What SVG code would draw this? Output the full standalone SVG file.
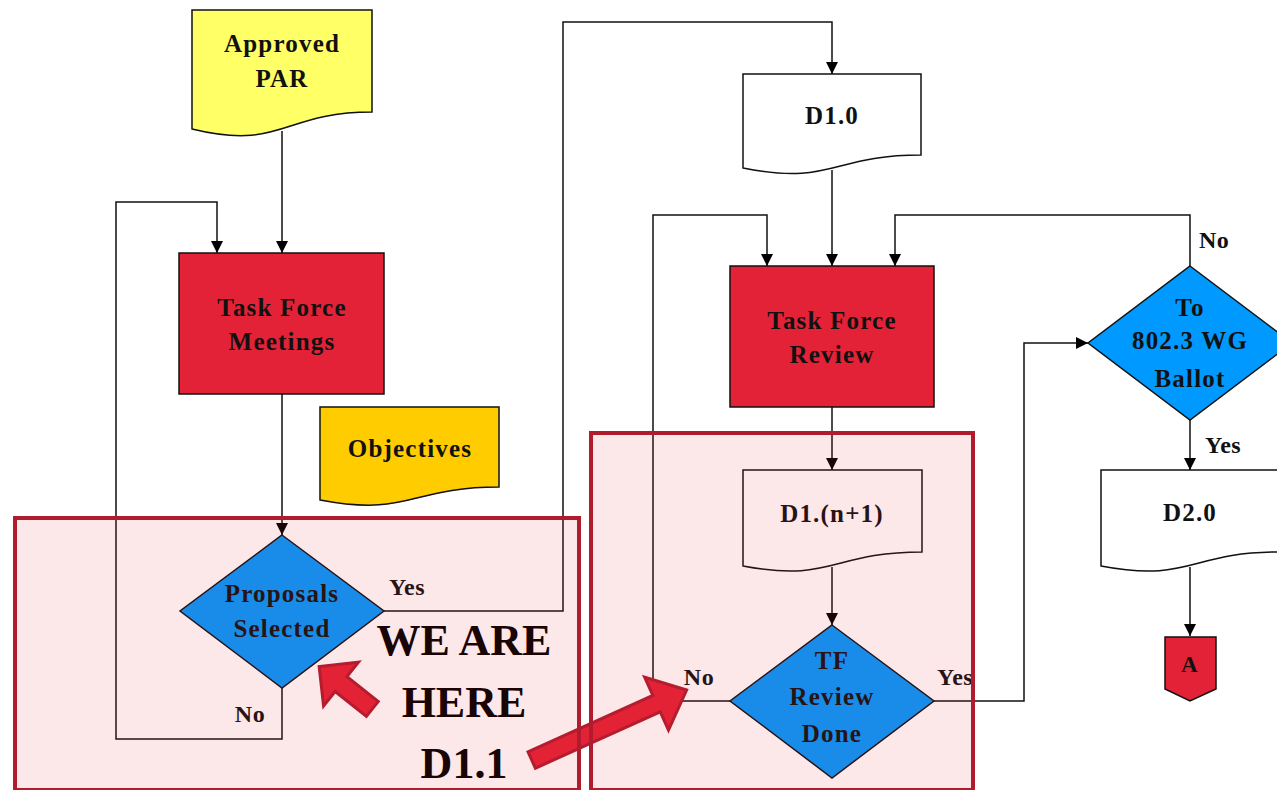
<svg xmlns="http://www.w3.org/2000/svg" width="1277" height="790" viewBox="0 0 1277 790">
<defs>
<marker id="ah" markerUnits="userSpaceOnUse" markerWidth="12" markerHeight="12" refX="12" refY="6" orient="auto">
<path d="M0,0 L12,6 L0,12 Z" fill="#000"/>
</marker>
<style>
.conn{fill:none;stroke:#111;stroke-width:1.5}
.shape{stroke:#111;stroke-width:1.5}
.t{font-family:"Liberation Serif","Times New Roman",serif;font-weight:bold;font-size:25px;letter-spacing:1.2px;fill:#111;text-anchor:middle}
.lbl{font-family:"Liberation Serif","Times New Roman",serif;font-weight:bold;font-size:24px;letter-spacing:0.5px;fill:#111}
.big{font-family:"Liberation Serif","Times New Roman",serif;font-weight:bold;font-size:44px;fill:#000;text-anchor:middle}
.red{fill:#E32237}
.blue{fill:#0099FF}
.doc{fill:#fff}
.bigarrow{fill:#E32237;stroke:#B01C2E;stroke-width:3;stroke-linejoin:miter}
.hl{fill:#E32237;fill-opacity:0.11;stroke:#B01C2E;stroke-width:4}
</style>
</defs>
<rect width="1277" height="790" fill="#fff"/>

<g id="connectors">
<path class="conn" d="M282,131 V253" marker-end="url(#ah)"/>
<path class="conn" d="M282,394 V535" marker-end="url(#ah)"/>
<path class="conn" d="M282,688 V739 H116 V202 H217 V253" marker-end="url(#ah)"/>
<path class="conn" d="M384,611 H563 V22 H832 V74" marker-end="url(#ah)"/>
<path class="conn" d="M832,170 V266" marker-end="url(#ah)"/>
<path class="conn" d="M832,407 V470" marker-end="url(#ah)"/>
<path class="conn" d="M832,567 V625" marker-end="url(#ah)"/>
<path class="conn" d="M730,701 H653 V215 H767 V266" marker-end="url(#ah)"/>
<path class="conn" d="M934,701 H1024 V343 H1088" marker-end="url(#ah)"/>
<path class="conn" d="M1190,266 V215 H895 V266" marker-end="url(#ah)"/>
<path class="conn" d="M1190,420 V470" marker-end="url(#ah)"/>
<path class="conn" d="M1190,567 V636" marker-end="url(#ah)"/>
</g>

<g id="approved-par">
<path class="shape" fill="#FFFF66" d="M192,10 H372 V112 C282,112 282,151 192,129 Z"/>
<text class="t" x="282" y="52">Approved</text>
<text class="t" x="282" y="87">PAR</text>
</g>

<g id="task-force-meetings">
<rect class="shape red" x="179" y="253" width="205" height="141"/>
<text class="t" x="282" y="316">Task Force</text>
<text class="t" x="282" y="350">Meetings</text>
</g>

<g id="objectives">
<path class="shape" fill="#FFCC00" d="M320,407 H499 V487 C409.5,487 409.5,517 320,500 Z"/>
<text class="t" x="410" y="457">Objectives</text>
</g>

<g id="proposals-selected">
<path class="shape blue" d="M282,535 L384,611 L282,688 L180,611 Z"/>
<text class="t" x="282" y="602">Proposals</text>
<text class="t" x="282" y="637">Selected</text>
<text class="lbl" x="407" y="595" text-anchor="middle">Yes</text>
<text class="lbl" x="250" y="722" text-anchor="middle">No</text>
</g>

<g id="d1-0">
<path class="shape doc" d="M743,74 H921 V155 C832,155 832,186 743,168 Z"/>
<text class="t" x="832" y="124">D1.0</text>
</g>

<g id="task-force-review">
<rect class="shape red" x="730" y="266" width="204" height="141"/>
<text class="t" x="832" y="329">Task Force</text>
<text class="t" x="832" y="363">Review</text>
</g>

<g id="d1-n1">
<path class="shape doc" d="M743,470 H922 V552 C832,552 832,583 743,566 Z"/>
<text class="t" x="832" y="522">D1.(n+1)</text>
</g>

<g id="tf-review-done">
<path class="shape blue" d="M832,625 L934,701 L832,778 L730,701 Z"/>
<text class="t" x="832" y="669">TF</text>
<text class="t" x="832" y="705">Review</text>
<text class="t" x="832" y="742">Done</text>
<text class="lbl" x="699" y="685" text-anchor="middle">No</text>
<text class="lbl" x="937" y="685">Yes</text>
</g>

<g id="to-wg-ballot">
<path class="shape blue" d="M1190,266 L1292,343 L1190,420 L1088,343 Z"/>
<text class="t" x="1190" y="316">To</text>
<text class="t" x="1190" y="349">802.3 WG</text>
<text class="t" x="1190" y="387">Ballot</text>
<text class="lbl" x="1199" y="248">No</text>
<text class="lbl" x="1205" y="453">Yes</text>
</g>

<g id="d2-0">
<path class="shape doc" d="M1101,470 H1279 V552 C1190,552 1190,583 1101,566 Z"/>
<text class="t" x="1190" y="521">D2.0</text>
</g>

<g id="connector-a">
<path class="shape red" d="M1165,637 H1216 V689 L1190,701 L1165,689 Z"/>
<text class="t" x="1190" y="672" style="font-size:23px">A</text>
</g>

<g id="we-are-here">
<polygon class="bigarrow" transform="translate(372.3,709) rotate(-141.4)" points="0,-9.5 40,-9.5 40,-28 68,0 40,28 40,9.5 0,9.5"/>
<polygon class="bigarrow" transform="translate(531.7,760) rotate(-24.3)" points="0,-9 137,-9 137,-29 170,0 137,29 137,9 0,9"/>
<text class="big" x="464" y="655">WE ARE</text>
<text class="big" x="464" y="717">HERE</text>
<text class="big" x="464" y="778">D1.1</text>
</g>

<g id="highlights">
<rect class="hl" x="15" y="518" width="564" height="272"/>
<rect class="hl" x="591" y="433" width="382" height="357"/>
</g>
</svg>
